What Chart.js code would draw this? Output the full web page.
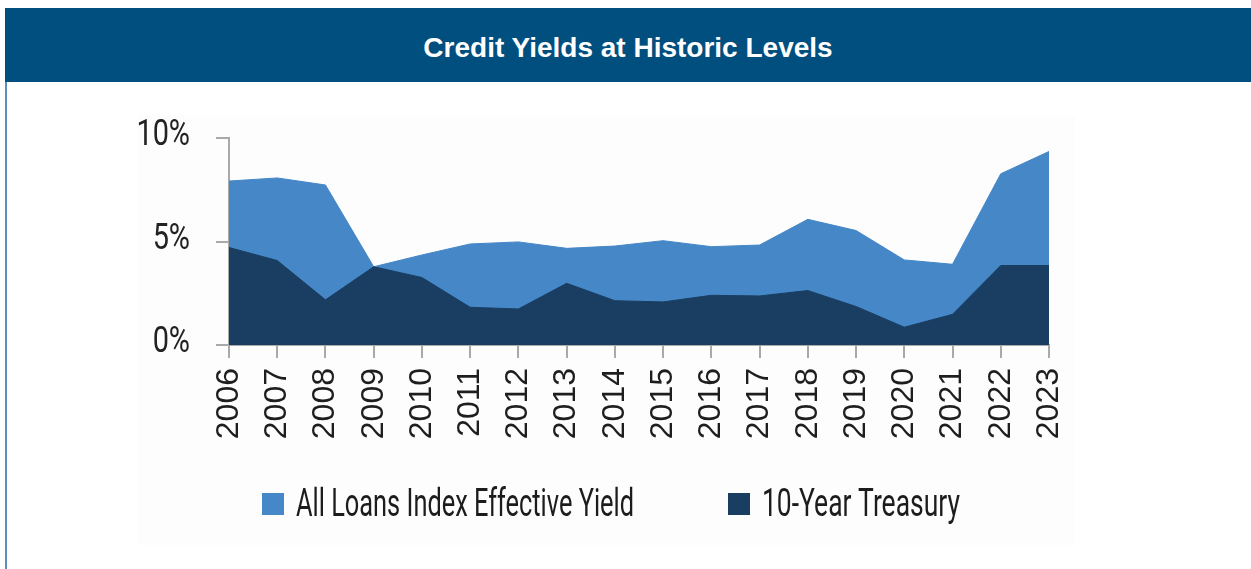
<!DOCTYPE html>
<html><head><meta charset="utf-8">
<script src="https://cdn.jsdelivr.net/npm/chart.js@4.4.0/dist/chart.umd.min.js"></script>
<style>
html,body{margin:0;padding:0;background:#fff;width:1251px;height:569px;overflow:hidden;}
#hdr{position:absolute;left:5px;top:8px;width:1246px;height:74px;background:#014f7f;color:#fff;font:bold 28px "Liberation Sans",Arial,sans-serif;display:flex;align-items:center;justify-content:center;}
#hdr span{position:relative;top:3px;}
#lb{position:absolute;left:5px;top:82px;width:2px;height:487px;background:#5d8fbd;}
#panel{position:absolute;left:138px;top:115px;width:937px;height:430px;background:#fdfdfd;}
#wrap{position:absolute;left:0;top:0;width:1251px;height:569px;}
</style></head>
<body>
<div id="hdr"><span>Credit Yields at Historic Levels</span></div>
<div id="lb"></div>
<div id="panel"></div>
<div id="wrap"><canvas id="c" width="1251" height="569"></canvas></div>
<script>
const years = ['2006','2007','2008','2009','2010','2011','2012','2013','2014','2015','2016','2017','2018','2019','2020','2021','2022','2023'];
const loansYield = [7.92, 8.07, 7.73, 3.78, 4.35, 4.88, 4.98, 4.67, 4.78, 5.04, 4.75, 4.83, 6.07, 5.53, 4.11, 3.90, 8.27, 9.35];
const treasury10y = [4.71, 4.08, 2.18, 3.78, 3.26, 1.82, 1.74, 2.98, 2.14, 2.08, 2.40, 2.37, 2.63, 1.86, 0.86, 1.48, 3.84, 3.84];
const yTicks = [0, 5, 10];
const yTickLabels = ['0%', '5%', '10%'];
const seriesNames = ['All Loans Index Effective Yield', '10-Year Treasury'];
const seriesColors = ['#4587c7', '#1a3e62'];

const AXIS = '#a9a9a9';
const condensedText = {
  id: 'condensedText',
  afterDraw(chart) {
    const ctx = chart.ctx;
    const ys = chart.scales.y;
    ctx.save();
    ctx.fillStyle = '#222';
    ctx.font = '37px Roboto';
    ctx.textBaseline = 'middle';
    ctx.textAlign = 'right';
    ys.ticks.forEach(t => {
      const idx = yTicks.indexOf(t.value);
      if (idx < 0) return;
      const y = ys.getPixelForValue(t.value);
      ctx.save();
      ctx.translate(190, y - 2);
      ctx.scale(0.78, 1);
      ctx.fillText(yTickLabels[idx], 0, 0);
      ctx.restore();
    });
    const items = [{x: 262, w: 338}, {x: 728, w: 198}];
    ctx.font = '38px Roboto';
    ctx.textAlign = 'left';
    ctx.textBaseline = 'alphabetic';
    chart.data.datasets.forEach((ds, i) => {
      const it = items[i];
      ctx.fillStyle = ds.backgroundColor;
      ctx.fillRect(it.x, 493, 22, 22);
      ctx.fillStyle = '#1c1c1c';
      const m = ctx.measureText(ds.label).width;
      ctx.save();
      ctx.translate(it.x + 34, 516);
      ctx.scale(it.w / m, 1);
      ctx.fillText(ds.label, 0, 0);
      ctx.restore();
    });
    ctx.restore();
  }
};

new Chart(document.getElementById('c'), {
  type: 'line',
  data: {
    labels: years,
    datasets: [
      {label: seriesNames[0], data: loansYield, backgroundColor: seriesColors[0], borderColor: seriesColors[0], borderWidth: 1, fill: 'origin', pointRadius: 0, tension: 0, order: 2},
      {label: seriesNames[1], data: treasury10y, backgroundColor: seriesColors[1], borderColor: seriesColors[1], borderWidth: 1, fill: 'origin', pointRadius: 0, tension: 0, order: 1}
    ]
  },
  options: {
    responsive: false,
    animation: false,
    devicePixelRatio: 1,
    layout: {padding: {left: 209, right: 202, top: 138, bottom: 124}},
    plugins: {legend: {display: false}, tooltip: {enabled: false}, title: {display: false}},
    scales: {
      x: {
        type: 'category',
        offset: false,
        grid: {drawOnChartArea: false, drawTicks: true, tickLength: 13, color: AXIS, lineWidth: 2},
        border: {display: true, color: AXIS, width: 2},
        ticks: {autoSkip: false, maxRotation: 90, minRotation: 90, padding: 10, color: '#1e1e1e', font: {family: 'Liberation Sans', size: 32}},
        afterFit(s) { s.height = 100; }
      },
      y: {
        min: 0, max: 10,
        grid: {drawOnChartArea: false, drawTicks: true, tickLength: 13, color: AXIS, lineWidth: 2},
        border: {display: true, color: AXIS, width: 2},
        ticks: {display: false, stepSize: 5},
        afterBuildTicks(s) { s.ticks = yTicks.map(v => ({value: v})); },
        afterFit(s) { s.width = 20; }
      }
    }
  },
  plugins: [condensedText]
});
</script>
</body></html>
